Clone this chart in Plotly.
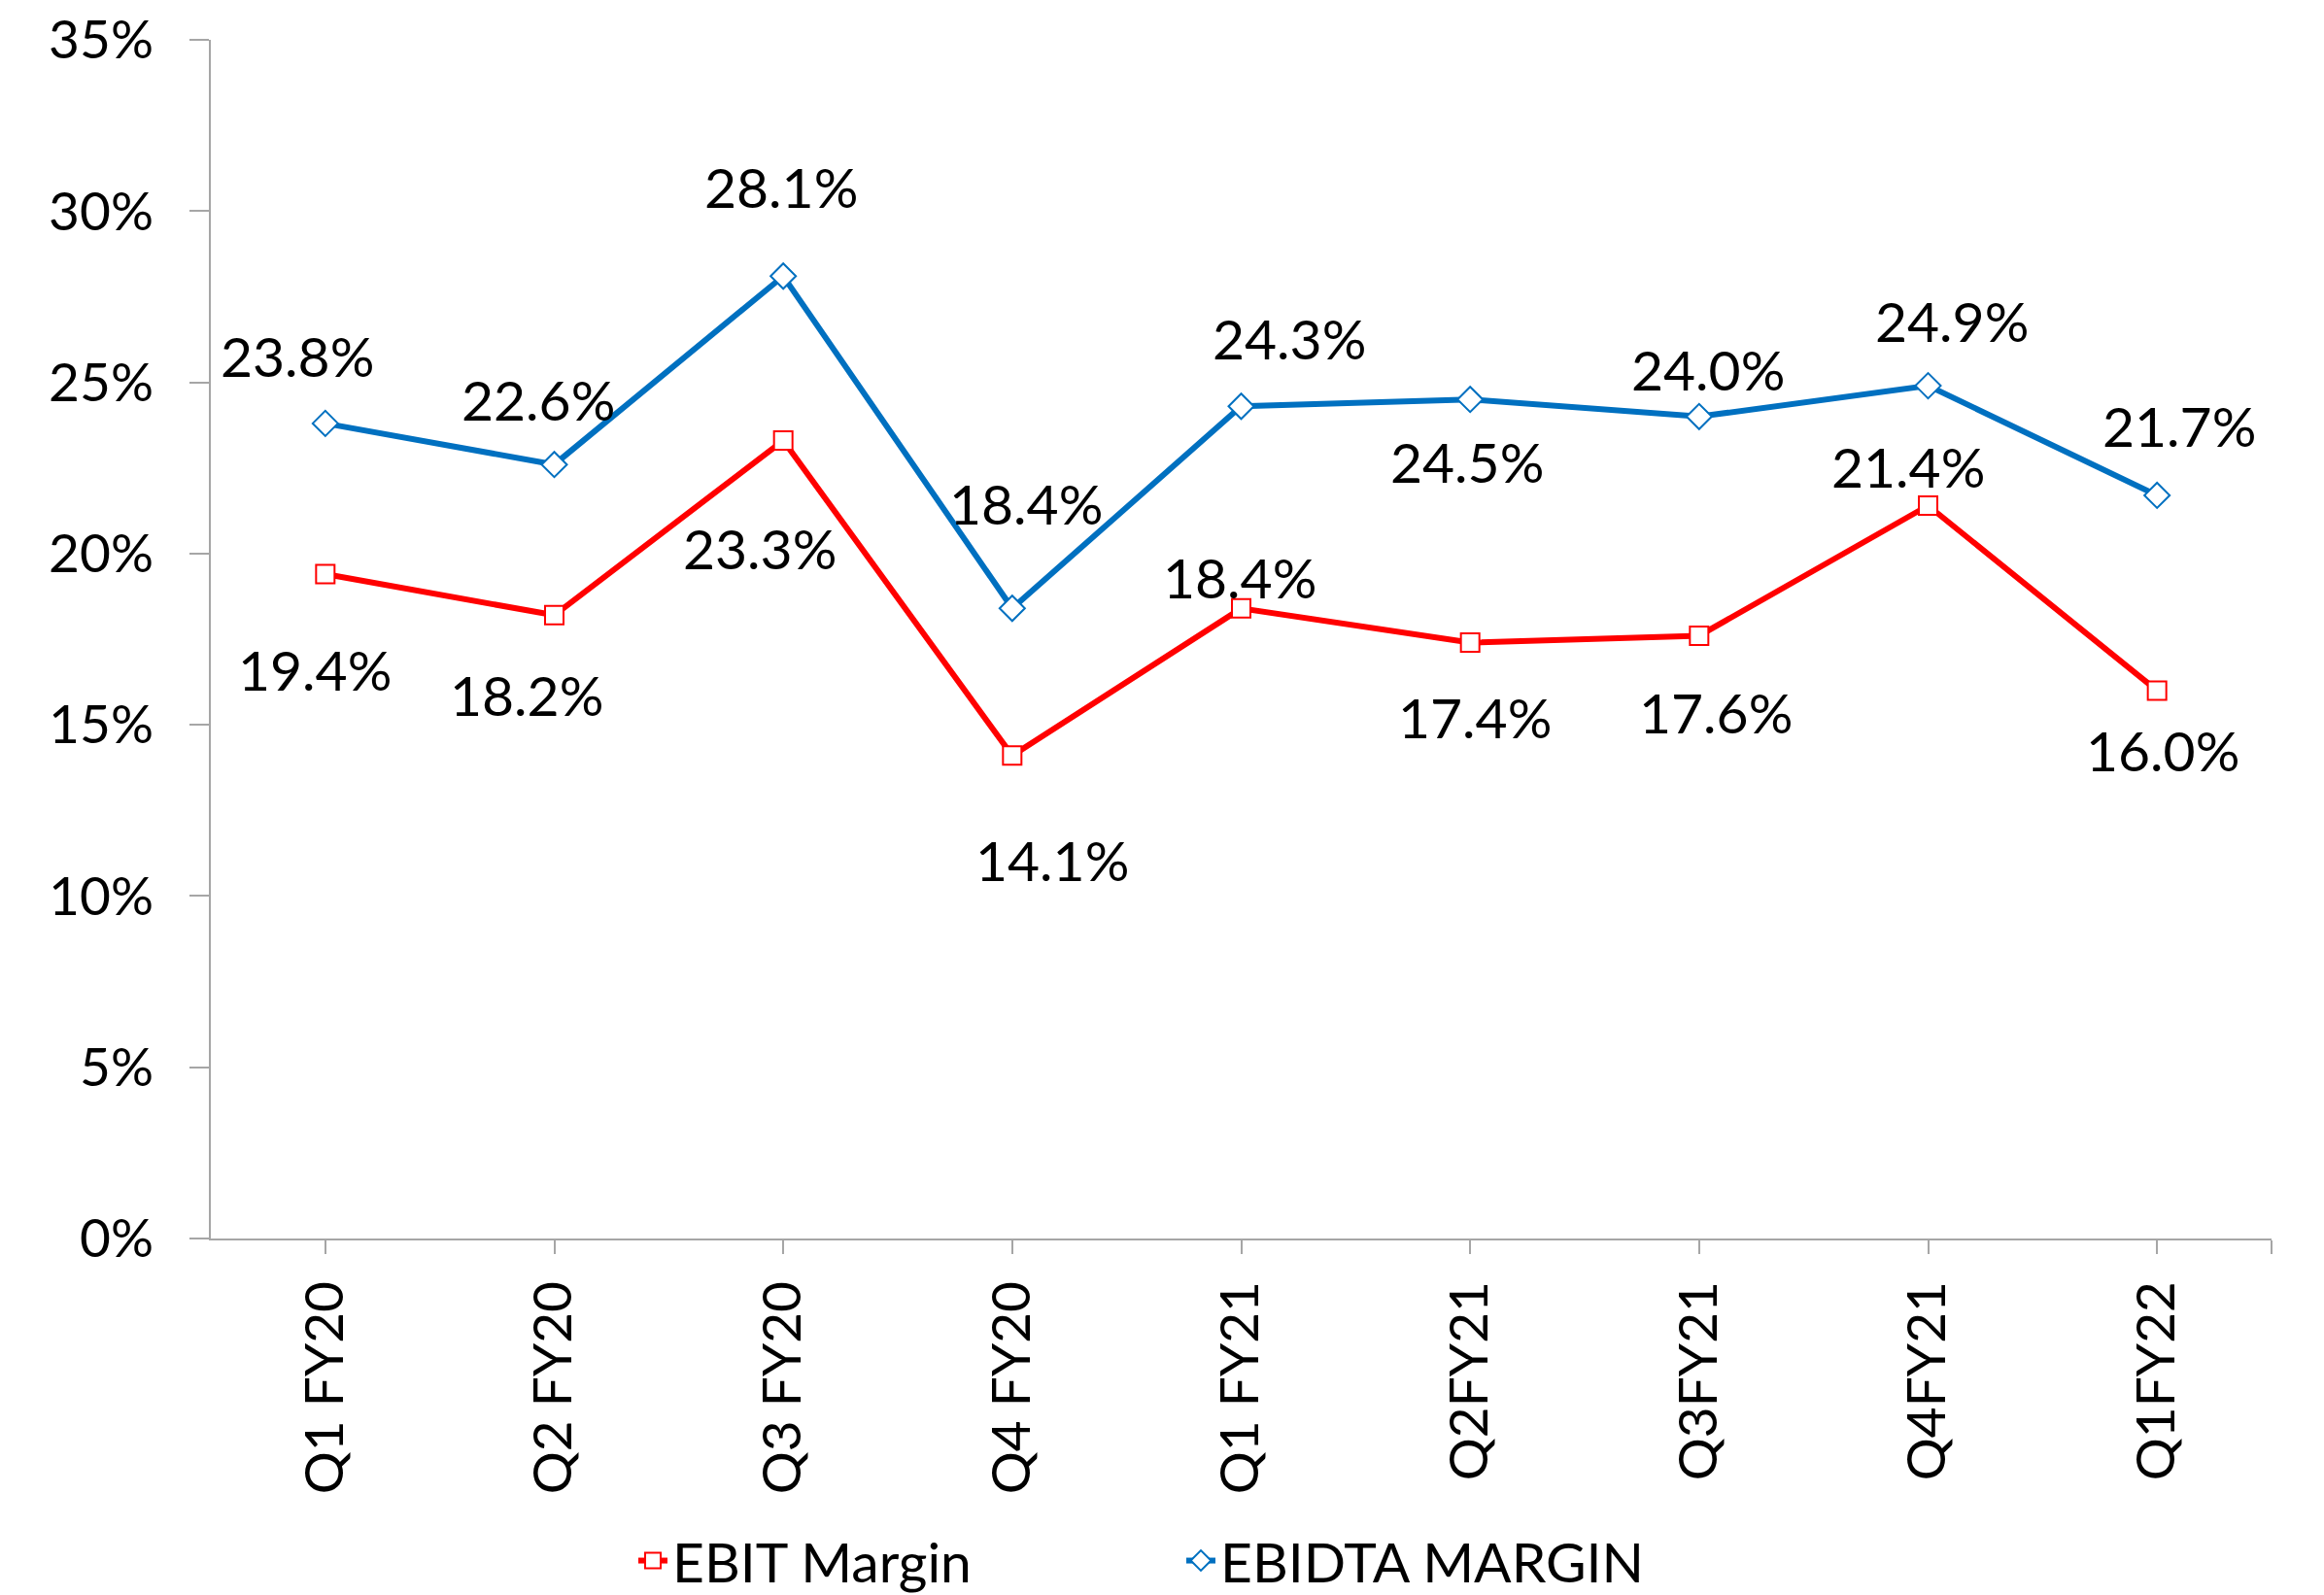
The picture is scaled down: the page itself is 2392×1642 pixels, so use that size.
import plotly.graph_objects as go

categories = ["Q1 FY20", "Q2 FY20", "Q3 FY20", "Q4 FY20", "Q1 FY21",
              "Q2FY21", "Q3FY21", "Q4FY21", "Q1FY22"]
ebit_margin = [19.4, 18.2, 23.3, 14.1, 18.4, 17.4, 17.6, 21.4, 16.0]
ebitda_margin = [23.8, 22.6, 28.1, 18.4, 24.3, 24.5, 24.0, 24.9, 21.7]
y_tick_values = [0, 5, 10, 15, 20, 25, 30, 35]
y_tick_labels = ["0%", "5%", "10%", "15%", "20%", "25%", "30%", "35%"]

# label offsets in pixels (dx, dy) relative to each point
ebit_label_offsets = [(-11, -98), (-29, -82), (-24, -110), (41, -107), (-2, 32),
                      (5, -76), (17, -79), (-21, 41), (6, -61)]
ebitda_label_offsets = [(-29, 70), (-17, 67), (-2, 92), (14, 108), (49, 70),
                        (-3, -64), (9, 49), (24, 67), (23, 72)]

FONT = "Lato, Carlito, Calibri, sans-serif"
RED = "#FF0000"
BLUE = "#0070C0"
AXIS = "#A6A6A6"

W, H = 2392, 1642
L, T = 217, 41
PLOT_W, PLOT_H = 2121, 1234
R = W - L - PLOT_W
B = H - T - PLOT_H
LEGEND_Y = -(1607 - (T + PLOT_H)) / PLOT_H

xs = list(range(len(categories)))

fig = go.Figure()
fig.add_trace(go.Scatter(
    x=xs, y=ebit_margin, name="EBIT Margin", mode="lines+markers",
    line=dict(color=RED, width=6),
    marker=dict(symbol="square", size=19, color="white",
                line=dict(color=RED, width=2)),
    legend="legend",
))
fig.add_trace(go.Scatter(
    x=xs, y=ebitda_margin, name="EBIDTA MARGIN", mode="lines+markers",
    line=dict(color=BLUE, width=6),
    marker=dict(symbol="diamond", size=20, color="white",
                line=dict(color=BLUE, width=2)),
    legend="legend2",
))

for i, v in enumerate(ebit_margin):
    dx, dy = ebit_label_offsets[i]
    fig.add_annotation(x=xs[i], y=v, text=f"{v:.1f}%", showarrow=False,
                       xshift=dx, yshift=dy,
                       font=dict(family=FONT, size=57, color="black"))
for i, v in enumerate(ebitda_margin):
    dx, dy = ebitda_label_offsets[i]
    fig.add_annotation(x=xs[i], y=v, text=f"{v:.1f}%", showarrow=False,
                       xshift=dx, yshift=dy,
                       font=dict(family=FONT, size=57, color="black"))

fig.update_layout(
    width=W, height=H,
    margin=dict(l=L, r=R, t=T, b=B, pad=0, autoexpand=False),
    paper_bgcolor="white", plot_bgcolor="white",
    font=dict(family=FONT, size=55, color="black"),
    showlegend=True,
    legend=dict(orientation="h", x=(652 - L) / PLOT_W, xanchor="left",
                y=LEGEND_Y, yanchor="middle",
                font=dict(family=FONT, size=57, color="black"),
                bgcolor="rgba(0,0,0,0)"),
    legend2=dict(orientation="h", x=(1216 - L) / PLOT_W, xanchor="left",
                 y=LEGEND_Y, yanchor="middle",
                 font=dict(family=FONT, size=57, color="black"),
                 bgcolor="rgba(0,0,0,0)"),
)
fig.update_xaxes(
    range=[-0.5, 8.5], tickmode="array",
    tickvals=xs + [8.5], ticktext=categories + [""],
    tickangle=-90, ticks="outside", ticklen=14, tickwidth=2, tickcolor=AXIS,
    showline=True, linecolor=AXIS, linewidth=2, showgrid=False, zeroline=False,
    tickfont=dict(family=FONT, size=55, color="black"), ticklabelstandoff=6,
    ticklabeloverflow="allow",
)
fig.update_yaxes(
    range=[0, 35], tickmode="array", tickvals=y_tick_values, ticktext=y_tick_labels,
    ticks="outside", ticklen=20, tickwidth=2, tickcolor=AXIS,
    showline=True, linecolor=AXIS, linewidth=2, showgrid=False, zeroline=False,
    tickfont=dict(family=FONT, size=55, color="black"), ticklabelstandoff=26,
    ticklabeloverflow="allow",
)

fig.write_html(
    "out.html",
    config={"displayModeBar": False},
    post_script="document.body.style.margin='0';document.body.style.overflow='hidden';",
)
